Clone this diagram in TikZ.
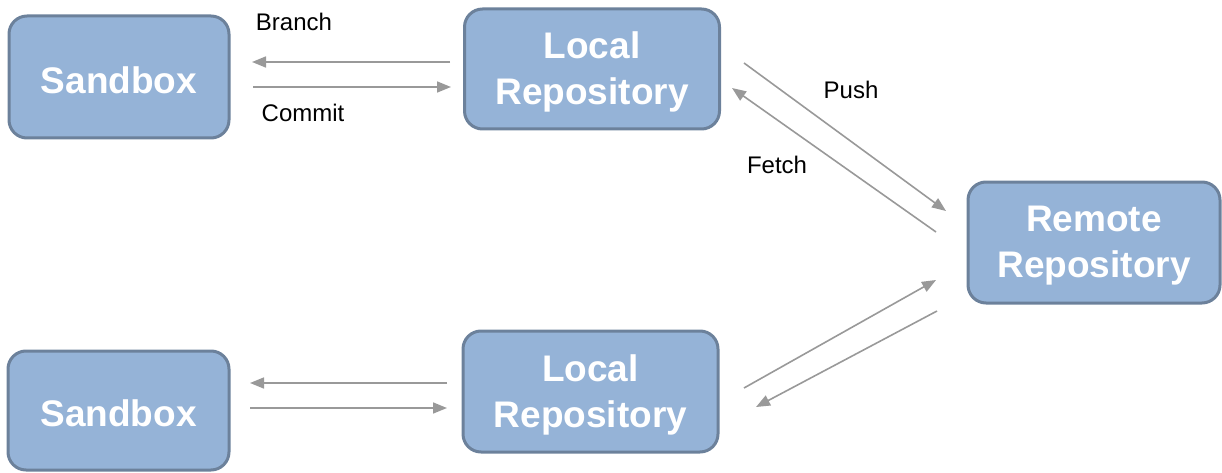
\documentclass[tikz,border=0pt]{standalone}
\usepackage{fontspec}
\setmainfont{Liberation Sans}
\usetikzlibrary{arrows.meta}
\definecolor{boxfill}{HTML}{95B3D7}
\definecolor{boxdraw}{HTML}{6C819B}
\definecolor{arr}{HTML}{999999}
\newcommand{\lowtxt}[1]{\raisebox{-3pt}[\height][\depth]{#1}}
\tikzset{
  repobox/.style={draw=boxdraw, line width=3pt, fill=boxfill, rounded corners=18pt,
    text=white, font=\fontsize{37}{46}\selectfont\bfseries, align=center, inner sep=0pt},
  flow/.style={draw=arr, line width=1.6pt, -{Triangle[length=14pt,width=11pt]}},
  lbl/.style={font=\fontsize{24}{28}\selectfont, text=black, inner sep=0pt}
}
\begin{document}
\begin{tikzpicture}[x=1pt,y=-1pt]
\useasboundingbox (0,0) rectangle (1222,473);
\node[repobox, minimum width=220pt, minimum height=122pt] (sb1) at (119,77) {\lowtxt{Sandbox}};
\node[repobox, minimum width=255pt, minimum height=120pt] (lr1) at (592,69) {\lowtxt{Local}\\\lowtxt{Repository}};
\node[repobox, minimum width=252pt, minimum height=121pt] (rr) at (1094,242.5) {\lowtxt{Remote}\\\lowtxt{Repository}};
\node[repobox, minimum width=221pt, minimum height=119pt] (sb2) at (118.5,410.5) {\lowtxt{Sandbox}};
\node[repobox, minimum width=255pt, minimum height=121pt] (lr2) at (590.5,391.5) {\lowtxt{Local}\\\lowtxt{Repository}};

\coordinate (b1s) at (450,62); \coordinate (b1e) at (252,62);
\coordinate (c1s) at (253,87); \coordinate (c1e) at (451,87);
\coordinate (ps) at (744,63); \coordinate (pe) at (946,211);
\coordinate (fs) at (936,232); \coordinate (fe) at (732,88);
\coordinate (us) at (744,388); \coordinate (ue) at (936,280);
\coordinate (ds) at (937,311); \coordinate (de) at (756,407);
\coordinate (b2s) at (447,383); \coordinate (b2e) at (250,383);
\coordinate (c2s) at (250,408); \coordinate (c2e) at (447,408);

\draw[flow] (b1s) -- (b1e);
\draw[flow] (c1s) -- (c1e);
\draw[flow] (ps) -- (pe);
\draw[flow] (fs) -- (fe);
\draw[flow] (us) -- (ue);
\draw[flow] (ds) -- (de);
\draw[flow] (b2s) -- (b2e);
\draw[flow] (c2s) -- (c2e);

\node[lbl] (lb) at (294,22) {Branch};
\node[lbl] (lc) at (303,113) {Commit};
\node[lbl] (lp) at (851,90) {Push};
\node[lbl] (lf) at (777,165) {Fetch};
\end{tikzpicture}
\end{document}
